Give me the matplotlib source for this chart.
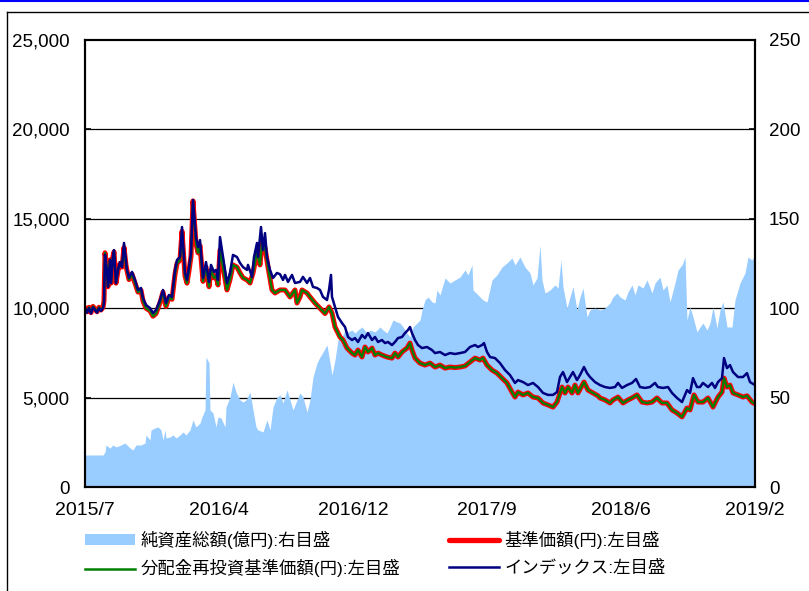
import matplotlib
matplotlib.use("Agg")
import matplotlib.pyplot as plt
from matplotlib.lines import Line2D
from matplotlib.patches import Patch

plt.rcParams['font.family'] = ['Liberation Sans', 'Noto Sans CJK JP', 'DejaVu Sans']

# observation index (0 = 2015/7 start, 670 = 2019/2 end)
tick_pos = [0, 134, 268, 402, 536, 670]
tick_labels = ["2015/7", "2016/4", "2016/12", "2017/9", "2018/6", "2019/2"]

# 基準価額 (円)
nav_p = [85,87,89,91,93,95,97,99,101,103,104,105,107,108,110,111,113,114,116,118,120,122,124,126,127,129,132,135,138,141,143,146,150,153,156,160,163,166,169,172,175,177,180,182,185,187,189,191,193,196,198,200,203,206,209,211,214,216,218,220,223,227,230,233,237,240,243,247,250,253,257,260,262,265,268,272,275,280,285,290,295,297,300,302,307,310,315,320,325,329,332,335,340,343,347,352,355,358,362,365,368,372,375,378,382,387,392,395,398,402,407,410,412,415,420,425,430,435,440,445,450,455,460,465,470,475,480,483,487,492,497,502,507,512,515,518,523,528,533,538,543,548,553,557,562,565,568,572,575,578,584,588,593,598,600,605,610,613,618,623,628,632,637,642,647,652,657,662,667,672,677,682,687,690,694,698,703,708,713,718,722,724,727,730,733,738,743,747,752,755]
nav = [10000,9800,10050,9750,10100,9950,9800,10050,9900,10050,10400,13100,12100,11200,12700,11400,12900,13150,11400,12100,12500,12300,13400,12400,12100,11600,11900,11400,10900,11000,10400,10000,9850,9550,9700,10300,10900,10100,10600,10500,11900,12500,12700,14300,11800,11400,12100,12900,16000,13600,13100,13500,11500,12300,11200,12100,11700,11800,11300,13250,12300,11020,11600,12420,12300,11970,11700,11580,11410,11970,13140,12420,13650,13370,12300,11020,10850,11020,11020,10630,11020,10290,10630,11020,10850,10630,10290,10000,9700,10070,9730,8950,8390,8220,7770,7490,7380,7660,7270,7830,7550,7770,7380,7490,7380,7270,7210,7490,7270,7550,7770,8050,7660,7210,6930,6820,6930,6710,6820,6650,6710,6680,6710,6770,6990,7210,7100,7210,6820,6540,6370,6090,5820,5310,5030,5310,5150,5260,5030,4980,4700,4590,4470,4750,5590,5260,5590,5260,5700,5260,5870,5420,5260,5100,4980,4870,4700,4870,5030,4700,4870,4980,5150,4750,4700,4750,4980,4700,4700,4310,4140,3920,4420,4310,5150,4750,4750,4980,4470,5030,5310,6090,5590,5700,5260,5150,5030,5100,4750,4650]

# 分配金再投資基準価額 (円)
reinv_p = nav_p
reinv = nav

# インデックス
idx_p = [85,87,89,91,93,95,97,99,101,103,104,105,107,108,110,111,113,114,116,118,120,122,124,127,129,132,135,138,141,143,146,150,153,156,160,163,166,169,172,175,177,180,182,185,187,189,191,193,196,198,200,203,206,209,211,214,216,218,220,223,227,230,233,237,240,243,247,248,252,254,257,258,261,263,265,267,270,273,277,280,283,285,288,292,295,300,303,307,310,313,317,320,323,327,329,331,332,335,338,342,345,348,352,355,358,362,365,368,372,375,378,382,385,388,392,395,398,402,405,408,410,412,415,418,422,427,432,435,440,445,450,455,460,465,470,475,478,482,484,487,490,495,500,505,510,515,518,523,528,533,538,543,548,553,557,560,563,567,570,573,577,580,584,587,590,595,600,605,610,615,618,622,627,632,636,640,645,650,655,658,663,668,672,677,682,687,690,693,697,700,703,708,712,715,718,722,724,727,730,733,738,743,747,750,755]
idx = [10000,9750,10000,9700,10050,9900,9750,10000,9850,10000,10300,13000,12000,11200,12700,11400,12900,13250,11400,12140,12580,12300,13650,12140,11690,12030,11580,11020,11130,10570,10180,10010,9730,9900,10460,11020,10290,10740,10630,12140,12700,12860,14540,11970,11580,12300,13090,16050,13980,13420,13810,11690,12580,11470,12420,12030,12140,11580,13980,12860,11400,11970,12980,12860,12530,12300,12140,12420,11750,12860,13650,12860,14540,13250,14200,12860,12140,11690,11970,11900,11580,11860,11470,11860,11410,11470,11750,11410,11690,11190,11130,11020,10630,10460,11020,11860,10630,10070,9510,9170,8950,8390,8220,8330,8110,8500,8330,8610,8220,8390,8110,8220,8050,8110,7940,8110,8330,8390,8610,8780,8950,8610,8220,7940,7770,7830,7660,7490,7550,7380,7490,7440,7490,7550,7830,7940,7830,7940,8050,7550,7270,7210,6930,6540,6260,5820,5980,5870,5700,5820,5590,5260,5150,5150,5310,6150,6430,5870,6150,6430,5980,6260,6710,6370,6150,5870,5700,5590,5540,5590,5820,5540,5700,5820,6040,5590,5540,5590,5820,5590,5540,5590,5260,4980,4750,5420,5260,6090,5590,5590,5820,5590,5820,5540,5870,6090,7210,6650,6820,6430,6150,6150,6370,5870,5700]

# 純資産総額 (億円)
aum_p = [85,86,95,103,105,106,110,113,116,121,125,130,133,136,141,145,146,150,151,155,158,161,163,165,166,170,173,176,180,183,186,190,193,196,200,202,205,206,209,210,213,216,218,221,225,226,230,233,236,240,243,246,250,253,256,258,263,267,270,273,277,280,283,287,290,293,297,300,303,307,310,313,317,320,323,327,330,332,335,338,342,345,348,352,355,358,362,367,370,375,380,383,387,390,393,397,400,403,407,410,413,417,420,422,425,428,432,435,437,440,445,450,455,460,465,468,472,473,478,483,487,492,497,502,507,512,515,520,525,530,533,537,540,542,545,550,555,558,561,563,567,570,573,577,580,583,587,590,595,600,605,610,613,617,620,625,628,632,635,638,643,647,652,655,660,663,667,670,675,678,682,685,687,690,693,697,700,703,707,710,713,717,720,723,727,732,735,740,745,748,752,755]
aum = [17.5,17.9,17.9,17.9,19.6,23.5,21.8,23.5,22.4,23.5,24.6,21.8,20.7,23.5,23.5,24.6,29.1,26.3,31.9,33.0,33.6,31.9,26.3,31.9,27.4,28.0,29.1,27.4,29.1,30.8,29.1,31.9,37.5,33.6,35.8,39.2,43.1,72.7,69.4,43.1,41.4,33.6,39.2,38.6,33.6,44.7,50.3,58.7,53.1,48.7,47.5,48.7,53.1,43.1,33.6,31.9,30.8,37.5,31.9,44.7,50.3,51.5,47.0,54.3,48.7,43.1,48.7,52.6,50.3,41.9,48.7,61.5,69.4,72.7,75.5,79.4,69.4,62.6,71.0,82.2,83.9,87.8,86.7,87.8,86.1,87.8,89.5,86.1,87.8,86.7,89.5,87.8,86.1,89.5,93.4,92.3,91.7,89.5,86.1,83.9,89.5,91.7,93.4,99.0,104.6,106.3,103.5,102.9,110.2,107.4,116.9,114.1,115.8,117.4,121.4,118.6,124.2,110.2,107.4,104.6,103.5,115.8,118.6,123.0,125.3,128.1,124.2,128.6,123.0,119.7,113.0,116.9,135.3,115.8,108.5,110.2,113.0,111.3,127.0,111.9,100.1,106.3,111.9,99.0,106.3,111.3,95.1,99.0,100.1,99.0,100.1,102.9,106.3,108.5,106.3,104.6,109.1,113.0,107.4,113.0,111.3,115.8,108.5,114.1,117.4,110.2,113.0,103.5,114.1,121.4,124.2,128.6,93.4,100.7,95.1,86.7,89.5,91.7,87.8,91.7,100.7,88.9,99.0,103.5,89.5,89.5,104.6,114.1,119.7,128.6,127.0,129.8]

OFFSET = 85
nav_x = [p - OFFSET for p in nav_p]
reinv_x = [p - OFFSET for p in reinv_p]
idx_x = [p - OFFSET for p in idx_p]
aum_x = [p - OFFSET for p in aum_p]

W, H = 809, 591
fig = plt.figure(figsize=(W / 100, H / 100), dpi=100)

# decorative frame lines
fig.add_artist(Line2D([0, 1], [1 - 1 / H, 1 - 1 / H], color='#0000FF', lw=1.5, transform=fig.transFigure))
fig.add_artist(Line2D([7 / W, 1], [1 - 12 / H, 1 - 12 / H], color='black', lw=1.0, transform=fig.transFigure))
fig.add_artist(Line2D([7 / W, 7 / W], [0, 1 - 12 / H], color='black', lw=1.0, transform=fig.transFigure))

rect = [85 / W, (H - 487) / H, 670 / W, 447 / H]
ax2 = fig.add_axes(rect)   # area (right scale)
ax = ax2.twinx()           # lines (left scale)
ax.yaxis.tick_left()
ax2.yaxis.tick_right()
ax.set_zorder(ax2.get_zorder() + 1)
ax.patch.set_visible(False)

area_color = '#99CCFF'
for g in [50, 100, 150, 200]:
    ax2.axhline(g, color='black', lw=0.9, zorder=1)
ax2.fill_between(aum_x, aum, 0, color=area_color, lw=0, zorder=2)
ax2.set_ylim(0, 250)
ax2.set_yticks([0, 50, 100, 150, 200, 250])
ax2.set_yticklabels(['0', '50', '100', '150', '200', '250'])
ax2.set_xlim(0, 670)
ax2.set_xticks(tick_pos)
ax2.set_xticklabels(tick_labels)

ax.plot(nav_x, nav, color='#FF0000', lw=3.6, solid_joinstyle='round')
ax.plot(reinv_x, reinv, color='#008000', lw=1.6)
ax.plot(idx_x, idx, color='#000080', lw=1.8)
ax.set_ylim(0, 25000)
ax.set_yticks(range(0, 25001, 5000))
ax.set_yticklabels(['0', '5,000', '10,000', '15,000', '20,000', '25,000'])
ax.set_xlim(0, 670)

for a in (ax, ax2):
    for s in a.spines.values():
        s.set_linewidth(1.5)
        s.set_color('black')

ax.tick_params(axis='y', direction='in', length=4, width=1.2, labelsize=13.5, pad=11)
ax2.tick_params(axis='y', direction='in', length=4, width=1.2, labelsize=13.5, pad=10)
ax2.tick_params(axis='x', direction='in', length=5, width=1.2, labelsize=14, pad=11)

handles = [
    Patch(facecolor=area_color, edgecolor='none', label='純資産総額(億円):右目盛'),
    Line2D([], [], color='#008000', lw=1.8, label='分配金再投資基準価額(円):左目盛'),
    Line2D([], [], color='#FF0000', lw=3.8, solid_capstyle='round', label='基準価額(円):左目盛'),
    Line2D([], [], color='#000080', lw=1.8, label='インデックス:左目盛'),
]
fig.legend(handles=handles, loc='upper left', bbox_to_anchor=(85 / W, 1 - 531 / H),
           ncol=2, frameon=False, fontsize=12.5, handlelength=2.9, handleheight=0.6,
           handletextpad=0.3, columnspacing=2.8, labelspacing=0.6, borderpad=0, borderaxespad=0)

fig.savefig('out.png', dpi=100)
